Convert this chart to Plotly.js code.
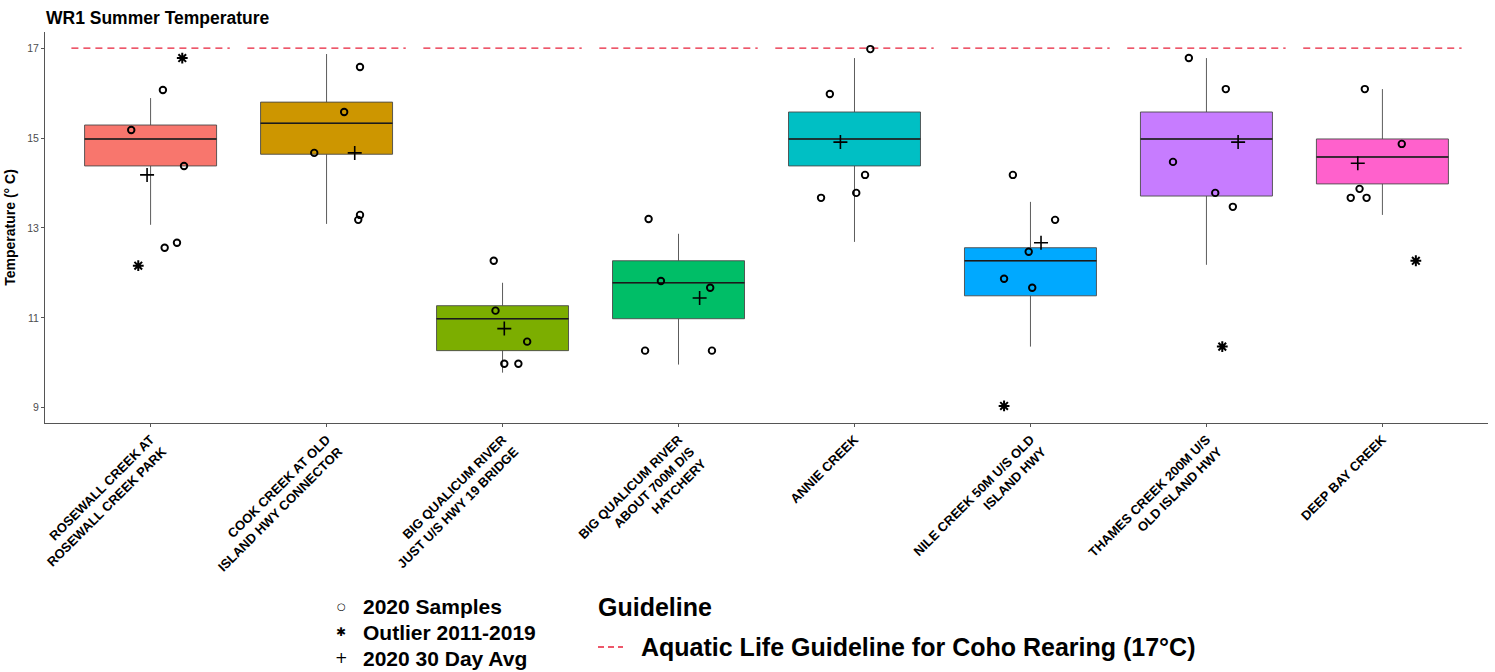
<!DOCTYPE html>
<html>
<head>
<meta charset="utf-8">
<script src="https://cdn.plot.ly/plotly-3.0.1.min.js"></script>
<style>html,body{margin:0;padding:0;background:#fff;}#chart{width:1495px;height:672px;}</style>
</head>
<body>
<div id="chart"></div>
<script>
// ---- data ----
const sites = [
  "ROSEWALL CREEK AT<br>ROSEWALL CREEK PARK",
  "COOK CREEK AT OLD<br>ISLAND HWY CONNECTOR",
  "BIG QUALICUM RIVER<br>JUST U/S HWY 19 BRIDGE",
  "BIG QUALICUM RIVER<br>ABOUT 700M D/S<br>HATCHERY",
  "ANNIE CREEK",
  "NILE CREEK 50M U/S OLD<br>ISLAND HWY",
  "THAMES CREEK 200M U/S<br>OLD ISLAND HWY",
  "DEEP BAY CREEK"
];
const lowerWhisker = [13.07, 13.09, 9.78, 9.96, 12.69, 10.36, 12.18, 13.29];
const q1           = [14.38, 14.64, 10.27, 10.98, 14.38, 11.49, 13.71, 13.98];
const median       = [14.98, 15.33, 10.98, 11.78, 14.98, 12.27, 14.98, 14.58];
const q3           = [15.29, 15.80, 11.27, 12.27, 15.58, 12.56, 15.58, 14.98];
const upperWhisker = [15.89, 16.87, 11.78, 12.87, 16.78, 13.58, 16.78, 16.09];

const sampleTemps = [
  [16.07, 15.18, 14.38, 12.67, 12.56],
  [16.58, 15.58, 14.67, 13.29, 13.18],
  [12.27, 11.16, 10.47, 9.98, 9.98],
  [13.20, 11.82, 11.67, 10.27, 10.27],
  [16.98, 15.98, 14.18, 13.78, 13.67],
  [14.18, 13.18, 12.47, 11.87, 11.67],
  [16.78, 16.09, 14.47, 13.78, 13.47],
  [16.09, 14.87, 13.87, 13.67, 13.67]
];
const sampleJitter = [
  [0.07, -0.11, 0.19, 0.15, 0.08],
  [0.19, 0.10, -0.07, 0.19, 0.18],
  [-0.05, -0.04, 0.14, 0.01, 0.09],
  [-0.17, -0.10, 0.18, -0.19, 0.19],
  [0.09, -0.14, 0.06, 0.01, -0.19],
  [-0.10, 0.14, -0.01, -0.15, 0.01],
  [-0.10, 0.11, -0.19, 0.05, 0.15],
  [-0.10, 0.11, -0.13, -0.18, -0.09]
];
const avgTemps  = [14.18, 14.67, 10.76, 11.44, 14.91, 12.67, 14.91, 14.44];
const avgJitter = [-0.02, 0.16, 0.01, 0.12, -0.08, 0.06, 0.18, -0.14];

const outlierSite   = [0, 0, 5, 6, 7];
const outlierTemps  = [16.78, 12.16, 9.04, 10.36, 12.27];
const outlierJitter = [0.18, -0.07, -0.15, 0.09, 0.19];

const guidelineTemp = 17;
const yTicks = [9, 11, 13, 15, 17];

// ---- styling ----
const boxColors = ["#F8766D", "#CD9600", "#7CAE00", "#00BE67", "#00BFC4", "#00A9FF", "#C77CFF", "#FF61CC"];
const FONT = "Liberation Sans, Arial, sans-serif";
const BOXW = 0.75;

const traces = [];

// guideline segments
const gx = [], gy = [];
sites.forEach((s, i) => { gx.push(i - 0.45, i + 0.45, null); gy.push(guidelineTemp, guidelineTemp, null); });
traces.push({type: "scatter", mode: "lines", x: gx, y: gy, showlegend: false, hoverinfo: "skip",
  line: {color: "#e8203a", width: 1.3, dash: "7px,5px"}});

// boxes
sites.forEach((s, i) => {
  traces.push({
    type: "box", x: [i], q1: [q1[i]], median: [median[i]], q3: [q3[i]],
    lowerfence: [lowerWhisker[i]], upperfence: [upperWhisker[i]],
    width: BOXW, whiskerwidth: 0, boxpoints: false,
    fillcolor: boxColors[i], line: {color: "#4a4a4a", width: 0.9},
    showlegend: false, hoverinfo: "skip"
  });
});

// median lines
const mx = [], my = [];
sites.forEach((s, i) => { mx.push(i - BOXW / 2, i + BOXW / 2, null); my.push(median[i], median[i], null); });
traces.push({type: "scatter", mode: "lines", x: mx, y: my, showlegend: false, hoverinfo: "skip",
  line: {color: "#1a1a1a", width: 1.6}});

// samples
const sx = [], sy = [];
sampleTemps.forEach((arr, i) => arr.forEach((v, j) => { sx.push(i + sampleJitter[i][j]); sy.push(v); }));
traces.push({type: "scatter", mode: "markers", x: sx, y: sy, showlegend: false,
  marker: {symbol: "circle-open", size: 6.5, color: "#000", line: {width: 1.9, color: "#000"}}});

// outliers
traces.push({type: "scatter", mode: "markers",
  x: outlierSite.map((s, k) => s + outlierJitter[k]), y: outlierTemps, showlegend: false,
  marker: {symbol: "asterisk-open", size: 9, color: "#000", line: {width: 2, color: "#000"}}});

// 30 day avg
traces.push({type: "scatter", mode: "markers",
  x: avgTemps.map((v, i) => i + avgJitter[i]), y: avgTemps, showlegend: false,
  marker: {symbol: "cross-thin-open", size: 10, color: "#000", line: {width: 1.6, color: "#000"}}});

// ---- layout ----
const L = 45, R = 7, T = 32, B = 249, W = 1495, H = 672;
const pw = W - L - R, ph = H - T - B;
const px = v => (v - L) / pw;
const py = v => (H - B - v) / ph;

const legendFont = {family: FONT, size: 21, color: "#000"};
const legendFont2 = {family: FONT, size: 25, color: "#000"};
const annotations = [
  {text: "○", x: px(341), y: py(606), font: {family: "DejaVu Sans", size: 10, color: "#000"}},
  {text: "✱", x: px(341), y: py(632), font: {family: "DejaVu Sans", size: 12, color: "#000"}},
  {text: "+", x: px(341), y: py(658), font: {family: "DejaVu Sans", size: 15, color: "#000"}},
  {text: "<b>2020 Samples</b>", x: px(361), y: py(606), xanchor: "left", font: legendFont},
  {text: "<b>Outlier 2011-2019</b>", x: px(361), y: py(632), xanchor: "left", font: legendFont},
  {text: "<b>2020 30 Day Avg</b>", x: px(361), y: py(658), xanchor: "left", font: legendFont},
  {text: "<b>Guideline</b>", x: px(596), y: py(607), xanchor: "left", font: legendFont2},
  {text: "<b>Aquatic Life Guideline for Coho Rearing (17°C)</b>", x: px(639), y: py(647), xanchor: "left", font: legendFont2}
].map(a => Object.assign({xref: "paper", yref: "paper", showarrow: false, yanchor: "middle",
  xanchor: a.xanchor || "center"}, a));

const layout = {
  width: W, height: H,
  margin: {l: L, r: R, t: T, b: B, pad: 0},
  paper_bgcolor: "#fff", plot_bgcolor: "#fff",
  font: {family: FONT, color: "#000"},
  title: {text: "<b>WR1 Summer Temperature</b>", x: 46 / W, xref: "container", xanchor: "left",
    y: 1 - 18 / H, yref: "container", yanchor: "middle", font: {family: FONT, size: 17.5, color: "#000"}},
  xaxis: {
    range: [-0.6, 7.6], tickmode: "array", tickvals: sites.map((s, i) => i),
    ticktext: sites.map(s => "<b>" + s + "</b>"), tickangle: -45,
    tickfont: {family: FONT, size: 13, color: "#000"},
    showgrid: false, zeroline: false, showline: true, linecolor: "#555", linewidth: 1,
    ticks: "outside", ticklen: 3, tickcolor: "#555", automargin: false
  },
  yaxis: {
    range: [8.66, 17.36], tickmode: "array", tickvals: yTicks, ticktext: yTicks.map(String),
    tickfont: {family: FONT, size: 10.5, color: "#4d4d4d"},
    showgrid: false, zeroline: false, showline: true, linecolor: "#555", linewidth: 1,
    ticks: "outside", ticklen: 3, tickcolor: "#555", automargin: false,
    title: {text: "<b>Temperature (° C)</b>", font: {family: FONT, size: 14, color: "#000"}, standoff: 8}
  },
  shapes: [{type: "line", xref: "paper", yref: "paper", x0: px(598), x1: px(623), y0: py(647), y1: py(647),
    line: {color: "#e8203a", width: 1.3, dash: "6px,4px"}}],
  annotations: annotations,
  showlegend: false
};

Plotly.newPlot("chart", traces, layout, {displayModeBar: false, staticPlot: true});
</script>
</body>
</html>
